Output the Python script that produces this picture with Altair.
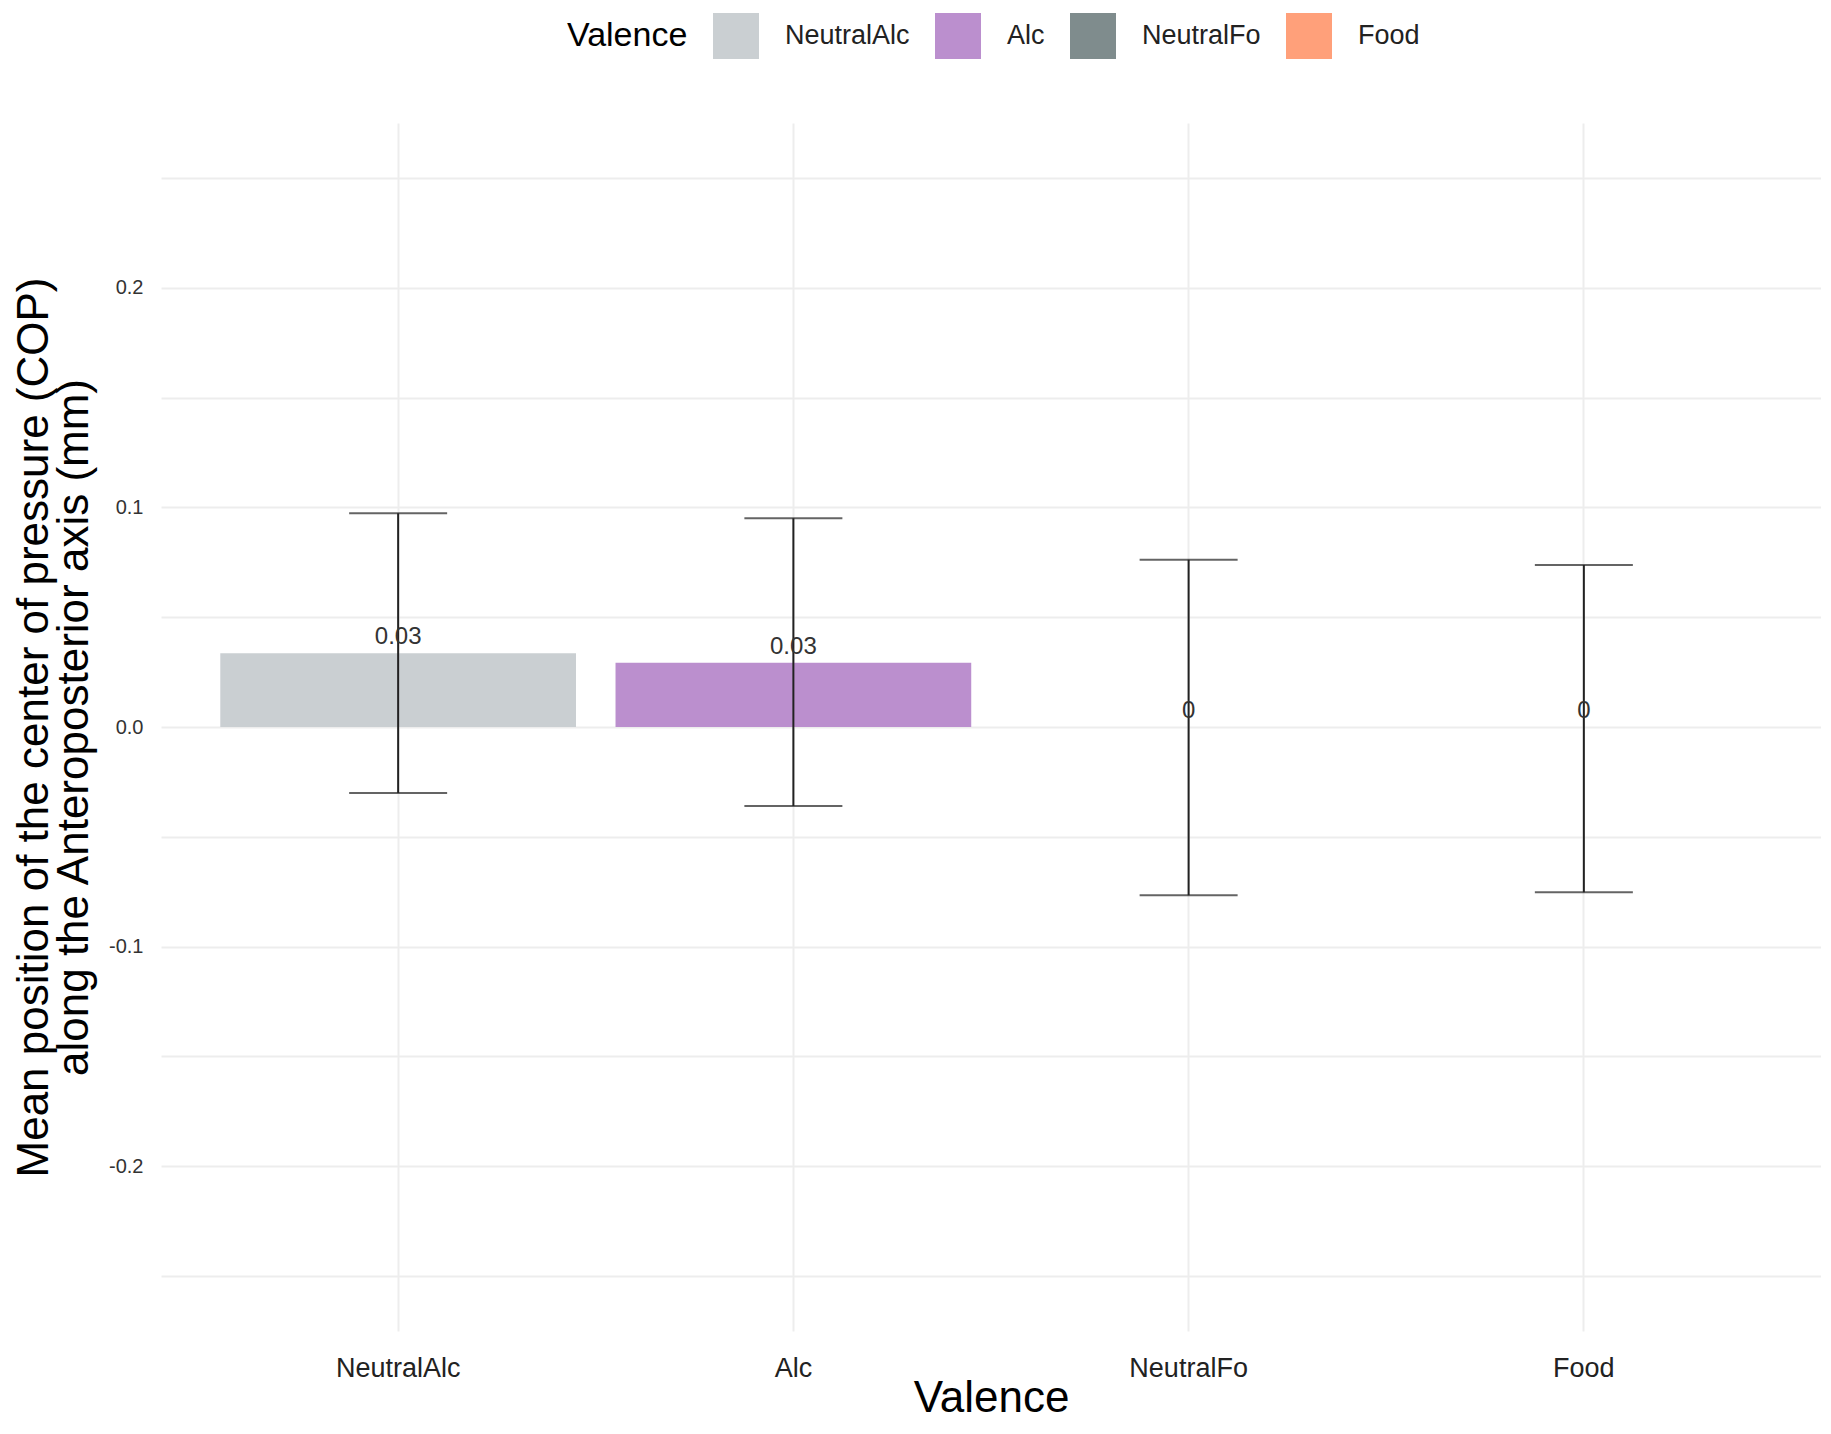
import altair as alt
import pandas as pd

# values
valence = ["NeutralAlc", "Alc", "NeutralFo", "Food"]
mean_cop = [0.0336, 0.0293, 0.0, 0.0]
ci_low = [-0.0300, -0.0360, -0.0766, -0.0752]
ci_high = [0.0973, 0.0950, 0.0761, 0.0738]
bar_labels = ["0.03", "0.03", "0", "0"]
palette = ["#CACFD2", "#BB8FCE", "#7F8C8D", "#FFA07A"]
grid_values = [-0.25, -0.2, -0.15, -0.1, -0.05, 0.0, 0.05, 0.1, 0.15, 0.2, 0.25]

df = pd.DataFrame({
    "Valence": valence,
    "mean": mean_cop,
    "low": ci_low,
    "high": ci_high,
    "label": bar_labels,
})

FONT = "Liberation Sans"

x_enc = alt.X(
    "Valence:N",
    sort=valence,
    scale=alt.Scale(paddingInner=0.1, paddingOuter=0.15),
    axis=alt.Axis(
        title="Valence", titleFontSize=44, titleFontWeight="normal", titleColor="#000",
        titlePadding=-5, labelFontSize=27, labelColor="#222", labelPadding=24,
        labelAngle=0, ticks=False, domain=False, grid=True, bandPosition=0.5,
        gridColor="#EDEDED", gridWidth=2,
    ),
)

y_scale = alt.Scale(domain=[-0.275, 0.275], nice=False, zero=False)

base = alt.Chart(df).encode(x=x_enc)

bars = base.mark_bar().encode(
    y=alt.Y(
        "mean:Q",
        scale=y_scale,
        axis=alt.Axis(
            title=["Mean position of the center of pressure (COP)",
                   "along the Anteroposterior axis (mm)"],
            titleFontSize=44, titleFontWeight="normal", titleColor="#000",
            titleLineHeight=40, titlePadding=12,
            values=grid_values,
            labelExpr="abs(datum.value * 10 - round(datum.value * 10)) < 0.001 ? "
                      "replace(format(datum.value, '.1f'), '\u2212', '-') : ''",
            labelFontSize=20, labelColor="#333", labelPadding=18,
            ticks=False, domain=False, grid=True,
            gridColor="#EDEDED", gridWidth=2,
        ),
    ),
    y2=alt.datum(0),
    color=alt.Color(
        "Valence:N",
        sort=valence,
        scale=alt.Scale(domain=valence, range=palette),
        legend=alt.Legend(
            title="Valence", orient="none", direction="horizontal",
            legendX=406, legendY=-110, titleOrient="left",
            titleFontSize=34, titleFontWeight="normal", titleColor="#000",
            titlePadding=25, titleBaseline="middle",
            labelFontSize=27, labelColor="#222", labelOffset=26,
            columnPadding=25, symbolType="square", symbolSize=2116,
            symbolStrokeWidth=0, columns=4,
        ),
    ),
)

whisker = base.mark_rule(color="#222", strokeWidth=2).encode(
    y=alt.Y("low:Q", scale=y_scale),
    y2="high:Q",
)
cap_low = base.mark_tick(color="#222", thickness=2, size=98).encode(
    y=alt.Y("low:Q", scale=y_scale)
)
cap_high = base.mark_tick(color="#222", thickness=2, size=98).encode(
    y=alt.Y("high:Q", scale=y_scale)
)

labels = base.mark_text(
    font=FONT, fontSize=24, color="#333", baseline="alphabetic", dy=-9
).encode(
    y=alt.Y("mean:Q", scale=y_scale),
    text="label:N",
)

chart = (bars + whisker + cap_low + cap_high + labels).properties(
    width=1660,
    height=1208,
    autosize=alt.AutoSizeParams(type="none"),
    padding={"left": 153, "top": 115, "right": 0, "bottom": 90},
).configure(
    font=FONT,
).configure_view(
    stroke=None,
).configure_axis(
    labelFont=FONT, titleFont=FONT,
).configure_legend(
    labelFont=FONT, titleFont=FONT,
)

chart.save("out.html", embed_options={"renderer": "svg", "actions": False})
